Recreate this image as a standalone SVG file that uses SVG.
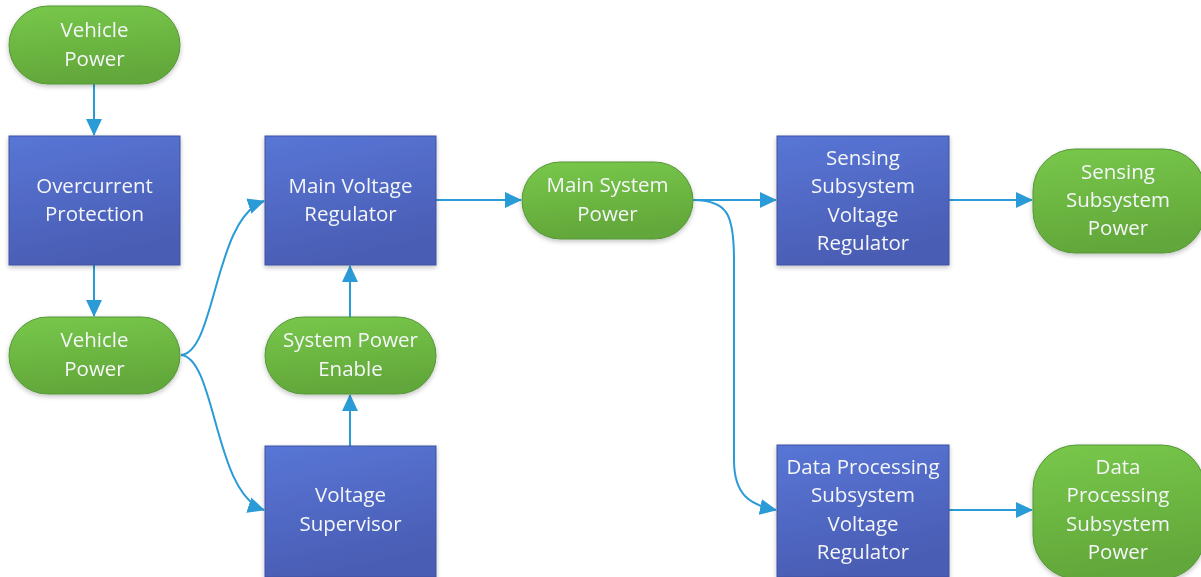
<svg xmlns="http://www.w3.org/2000/svg" width="1201" height="577" viewBox="0 0 1201 577">
<style>
.blue{fill:url(#gb);stroke:#3E52A3;stroke-width:1}
.green{fill:url(#gg);stroke:#559637;stroke-width:1}
.t{font-family:"Open Sans","Noto Sans",sans-serif;font-size:20.5px;fill:#F4F6F8;text-anchor:middle}
.c{fill:none;stroke:#2A9BD6;stroke-width:2;marker-end:url(#ah)}
</style>
<defs>
<linearGradient id="gb" x1="0" y1="0" x2="0.3" y2="1">
<stop offset="0" stop-color="#5876D6"/>
<stop offset="1" stop-color="#4A5DB4"/>
</linearGradient>
<linearGradient id="gg" x1="0" y1="0" x2="0.2" y2="1">
<stop offset="0" stop-color="#78C84B"/>
<stop offset="1" stop-color="#62A73A"/>
</linearGradient>
<filter id="sh" x="-10%" y="-10%" width="120%" height="130%">
<feGaussianBlur in="SourceAlpha" stdDeviation="2.5"/>
<feOffset dy="2" result="b"/>
<feComponentTransfer><feFuncA type="linear" slope="0.25"/></feComponentTransfer>
<feMerge><feMergeNode/><feMergeNode in="SourceGraphic"/></feMerge>
</filter>
<marker id="ah" viewBox="0 0 17 16" refX="16" refY="8" markerWidth="17" markerHeight="16" markerUnits="userSpaceOnUse" orient="auto">
<path d="M0,0 L17,8 L0,16 Z" fill="#2A9BD6"/>
</marker>
</defs>
<rect width="1201" height="577" fill="#FFFFFF"/>

<g id="connectors">
<path class="c" d="M94,84 L94,135"/>
<path class="c" d="M94,265 L94,316"/>
<path class="c" d="M181,355 C216,352 214,218 264,201"/>
<path class="c" d="M181,355 C216,358 214,494 264,510"/>
<path class="c" d="M350,446 L350,395"/>
<path class="c" d="M350,317 L350,266"/>
<path class="c" d="M436,200 L521,200"/>
<path class="c" d="M693,200 L776,200"/>
<path class="c" d="M693,200 C728,200 734,215 734,260 L734,460 C734,495 750,505 776,510"/>
<path class="c" d="M949,200 L1032,200"/>
<path class="c" d="M949,510 L1032,510"/>
</g>

<g id="vehicle-power-1" filter="url(#sh)">
<rect class="green" x="9" y="6" width="171" height="78" rx="39" ry="39"/>
<text class="t" x="94.5" y="37">Vehicle</text>
<text class="t" x="94.5" y="66">Power</text>
</g>

<g id="overcurrent-protection" filter="url(#sh)">
<rect class="blue" x="9" y="136" width="171" height="129"/>
<text class="t" x="94.5" y="193">Overcurrent</text>
<text class="t" x="94.5" y="221">Protection</text>
</g>

<g id="vehicle-power-2" filter="url(#sh)">
<rect class="green" x="9" y="317" width="171" height="77" rx="38.5" ry="38.5"/>
<text class="t" x="94.5" y="347">Vehicle</text>
<text class="t" x="94.5" y="376">Power</text>
</g>

<g id="main-voltage-regulator" filter="url(#sh)">
<rect class="blue" x="265" y="136" width="171" height="129"/>
<text class="t" x="350.5" y="193">Main Voltage</text>
<text class="t" x="350.5" y="221">Regulator</text>
</g>

<g id="system-power-enable" filter="url(#sh)">
<rect class="green" x="265" y="317" width="171" height="77" rx="38.5" ry="38.5"/>
<text class="t" x="350.5" y="347">System Power</text>
<text class="t" x="350.5" y="376">Enable</text>
</g>

<g id="voltage-supervisor" filter="url(#sh)">
<rect class="blue" x="265" y="446" width="171" height="131"/>
<text class="t" x="350.5" y="502">Voltage</text>
<text class="t" x="350.5" y="531">Supervisor</text>
</g>

<g id="main-system-power" filter="url(#sh)">
<rect class="green" x="522" y="162" width="171" height="77" rx="38.5" ry="38.5"/>
<text class="t" x="607.5" y="192">Main System</text>
<text class="t" x="607.5" y="221">Power</text>
</g>

<g id="sensing-subsystem-voltage-regulator" filter="url(#sh)">
<rect class="blue" x="777" y="136" width="172" height="129"/>
<text class="t" x="863" y="165">Sensing</text>
<text class="t" x="863" y="193">Subsystem</text>
<text class="t" x="863" y="222">Voltage</text>
<text class="t" x="863" y="250">Regulator</text>
</g>

<g id="sensing-subsystem-power" filter="url(#sh)">
<rect class="green" x="1033" y="149" width="172" height="104" rx="42" ry="42"/>
<text class="t" x="1118" y="179">Sensing</text>
<text class="t" x="1118" y="207">Subsystem</text>
<text class="t" x="1118" y="235">Power</text>
</g>

<g id="data-processing-subsystem-voltage-regulator" filter="url(#sh)">
<rect class="blue" x="777" y="445" width="172" height="132"/>
<text class="t" x="863" y="474">Data Processing</text>
<text class="t" x="863" y="502">Subsystem</text>
<text class="t" x="863" y="531">Voltage</text>
<text class="t" x="863" y="559">Regulator</text>
</g>

<g id="data-processing-subsystem-power" filter="url(#sh)">
<rect class="green" x="1033" y="445" width="172" height="134" rx="44" ry="44"/>
<text class="t" x="1118" y="474">Data</text>
<text class="t" x="1118" y="502">Processing</text>
<text class="t" x="1118" y="531">Subsystem</text>
<text class="t" x="1118" y="559">Power</text>
</g>
</svg>
